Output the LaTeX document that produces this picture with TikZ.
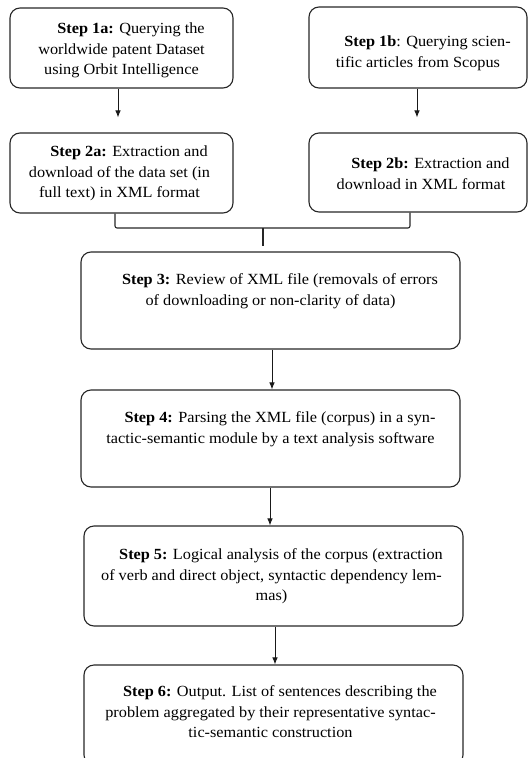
\documentclass[tikz,border=0pt]{standalone}
\usepackage{fontspec}
\setmainfont{Liberation Serif}[FakeStretch=1.05]
\usetikzlibrary{arrows.meta}

\tikzset{
  stepbox/.style={draw=black!85, line width=1.1pt, rounded corners=10pt, inner sep=0pt},
  steptext/.style={inner sep=0pt, anchor=north, align=center, font=\fontsize{15.5}{20.5}\selectfont},
  flow/.style={-{Latex[length=7pt,width=5.5pt]}, line width=0.9pt, black!90},
}

\begin{document}
\begin{tikzpicture}[x=1pt,y=-1pt]
\useasboundingbox (0,0) rectangle (529,758);

\node[stepbox, minimum width=223, minimum height=80] (s1a) at (121.5,48) {};
\node[stepbox, minimum width=218, minimum height=81] (s1b) at (418,47.5) {};
\node[stepbox, minimum width=223, minimum height=80] (s2a) at (121.5,173) {};
\node[stepbox, minimum width=218, minimum height=79] (s2b) at (418,172.5) {};
\node[stepbox, minimum width=379, minimum height=97] (s3) at (270.5,300.5) {};
\node[stepbox, minimum width=379, minimum height=97] (s4) at (270.5,438.5) {};
\node[stepbox, minimum width=379, minimum height=100] (s5) at (273.5,576) {};
\node[stepbox, minimum width=379, minimum height=100] (s6) at (273.5,715) {};

\node[steptext] (t1a) at ([yshift=-15.4pt]s1a.north)
  {\hspace*{19pt}\textbf{Step 1a:} Querying the\\ worldwide patent Dataset\\ using Orbit Intelligence};
\node[steptext] (t1b) at ([yshift=-29.4pt]s1b.north)
  {\hspace*{19pt}\textbf{Step 1b}: Querying scien-\\ tific articles from Scopus};
\node[steptext] (t2a) at ([yshift=-13.4pt,xshift=-2pt]s2a.north)
  {\hspace*{19pt}\textbf{Step 2a:} Extraction and\\ download of the data set (in\\ full text) in XML format};
\node[steptext] (t2b) at ([yshift=-25.4pt,xshift=3pt]s2b.north)
  {\hspace*{19pt}\textbf{Step 2b:} Extraction and\\ download in XML format};
\node[steptext] (t3) at ([yshift=-22.4pt]s3.north)
  {\hspace*{19pt}\textbf{Step 3:} Review of XML file (removals of errors\\ of downloading or non-clarity of data)};
\node[steptext] (t4) at ([yshift=-22.4pt]s4.north)
  {\hspace*{19pt}\textbf{Step 4:} Parsing the XML file (corpus) in a syn-\\ tactic-semantic module by a text analysis software};
\node[steptext] (t5) at ([yshift=-23.4pt,xshift=-2pt]s5.north)
  {\hspace*{19pt}\textbf{Step 5:} Logical analysis of the corpus (extraction\\ of verb and direct object, syntactic dependency lem-\\ mas)};
\node[steptext] (t6) at ([yshift=-21.4pt,xshift=-3pt]s6.north)
  {\hspace*{19pt}\textbf{Step 6:} Output. List of sentences describing the\\ problem aggregated by their representative syntac-\\ tic-semantic construction};

\draw[flow, shorten >=15pt] (s1a.south -| 118,0) to (s2a.north -| 118,0);
\draw[flow, shorten >=15pt] (s1b.south -| 417,0) to (s2b.north -| 417,0);

\coordinate (jl) at (115,228);
\coordinate (jr) at (410,228);
\coordinate (jm) at (263,228);
\coordinate (jend) at (263,246);
\draw[line width=1.1pt, black!85, rounded corners=2pt] (s2a.south -| jl) -- (jl) -- (jr) -- (s2b.south -| jr);
\draw[line width=1.1pt, black!85] (jm) -- (jend);

\draw[flow] (s3.south -| 272,0) to (s4.north -| 272,0);
\draw[flow] (s4.south -| 270,0) to (s5.north -| 270,0);
\draw[flow] (s5.south -| 275,0) to (s6.north -| 275,0);
\end{tikzpicture}
\end{document}
